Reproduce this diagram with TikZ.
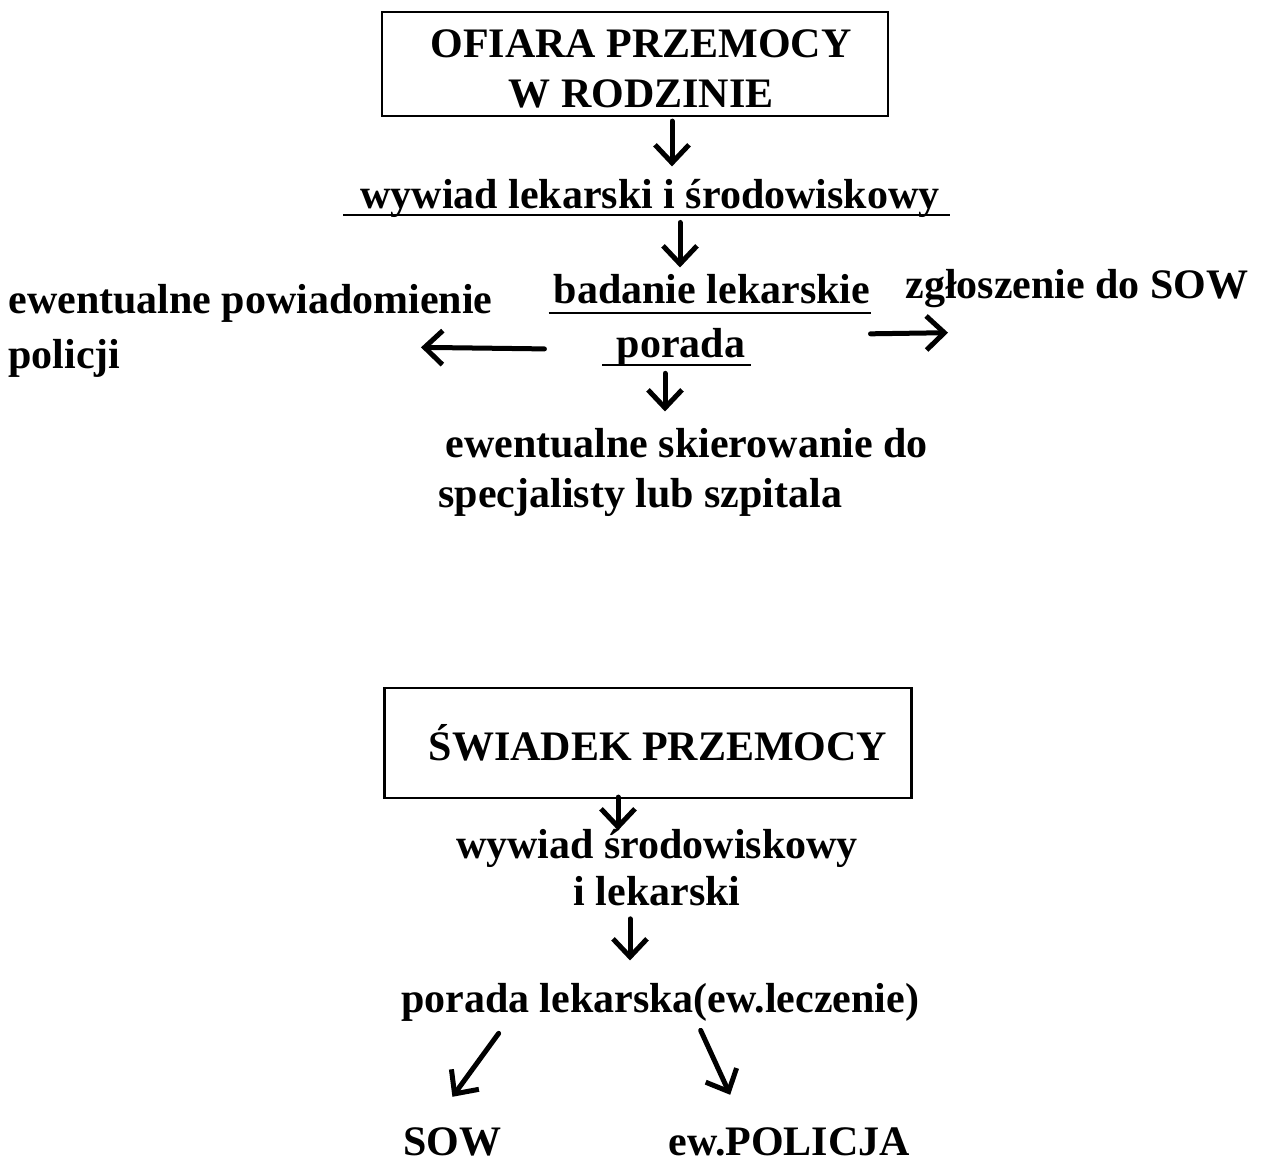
\documentclass[tikz,border=0pt]{standalone}
\usepackage{fontspec}
\setmainfont{Liberation Serif}
\usetikzlibrary{arrows.meta,calc}
\begin{document}
\begin{tikzpicture}[x=0.5pt,y=-0.5pt,
  txt/.style={inner sep=0pt,font=\fontsize{21}{24}\selectfont\bfseries},
  framebox/.style={draw,line width=1.1pt,inner sep=0pt,align=center,font=\fontsize{21}{25}\selectfont\bfseries},
  arr/.style={line width=2.5pt,line cap=round,line join=round,-{Straight Barb[length=9pt,width=17pt,line width=2.5pt]}},
  uline/.style={line width=1pt}]
\useasboundingbox (0,0) rectangle (1270,1164);
% --- first diagram ---
\node[framebox,minimum width=253pt,minimum height=52pt] (ofiara) at (635,64) {\hspace*{6pt}\rule{0pt}{19pt}OFIARA PRZEMOCY\\\hspace*{6pt}W RODZINIE};
\node[txt,anchor=base] (wyw1) at (650,208) {wywiad lekarski i środowiskowy};
\node[txt,anchor=base] (bad) at (712,303) {badanie lekarskie};
\node[txt,anchor=base] (por) at (681,357) {porada};
\node[txt,anchor=base west] (ewpow) at (8,313) {ewentualne powiadomienie};
\node[txt,anchor=base west] (pol) at (8,368) {policji};
\node[txt,anchor=base west] (zgl) at (905,298) {zgłoszenie do SOW};
\node[txt,anchor=base west] (skier1) at (445,457) {ewentualne skierowanie do};
\node[txt,anchor=base west] (skier2) at (438,507) {specjalisty lub szpitala};
% underlines
\draw[uline] ($(wyw1.base west)+(-17,7)$) -- ($(wyw1.base east)+(10,7)$);
\draw[uline] ($(bad.base west)+(-5,10)$) -- ($(bad.base east)+(0,10)$);
\draw[uline] ($(por.base west)+(-14,8)$) -- ($(por.base east)+(5,8)$);
% arrows
\draw[arr,shorten <=2pt,shorten >=6pt] (ofiara.south -| 672,0) -- (wyw1.north -| 672,0);
\draw[arr,shorten <=2.5pt,shorten >=3pt] (wyw1.south -| 680,0) -- (bad.north -| 680,0);
\draw[arr] ($(por.west)+(-72,2)$) -- ($(ewpow.south east)+(-72,25)$);
\draw[arr] ($(bad.south east)+(0,30)$) -- ($(zgl.south west)+(43,25)$);
\draw[arr,shorten <=3.5pt,shorten >=8pt] (por.south -| 665,0) -- (skier1.north -| 665,0);
% --- second diagram ---
\node[framebox,minimum width=263.5pt,minimum height=55pt] (swiadek) at (648,743) {\hspace*{10pt}ŚWIADEK PRZEMOCY};
\node[txt,anchor=base] (wsr1) at (657,858) {wywiad środowiskowy};
\node[txt,anchor=base] (wsr2) at (657,905) {i lekarski};
\node[txt,anchor=base] (plek) at (660,1012) {porada lekarska(ew.leczenie)};
\node[txt,anchor=base west] (sow) at (403,1155) {SOW};
\node[txt,anchor=base west] (pol2) at (668,1155) {ew.POLICJA};
\draw[arr,shorten <=-1pt,shorten >=-1pt] (swiadek.south -| 618,0) -- (wsr1.north -| 618,0);
\draw[arr,shorten <=6.5pt,shorten >=11pt] (wsr2.south -| 630,0) -- (plek.north -| 630,0);
\draw[arr] ($(plek.south west)+(98,12)$) -- ($(sow.north)+(0,-30)$);
\draw[arr] ($(plek.south west)+(300,9)$) -- ($(pol2.north)+(-59,-32)$);
\end{tikzpicture}
\end{document}
